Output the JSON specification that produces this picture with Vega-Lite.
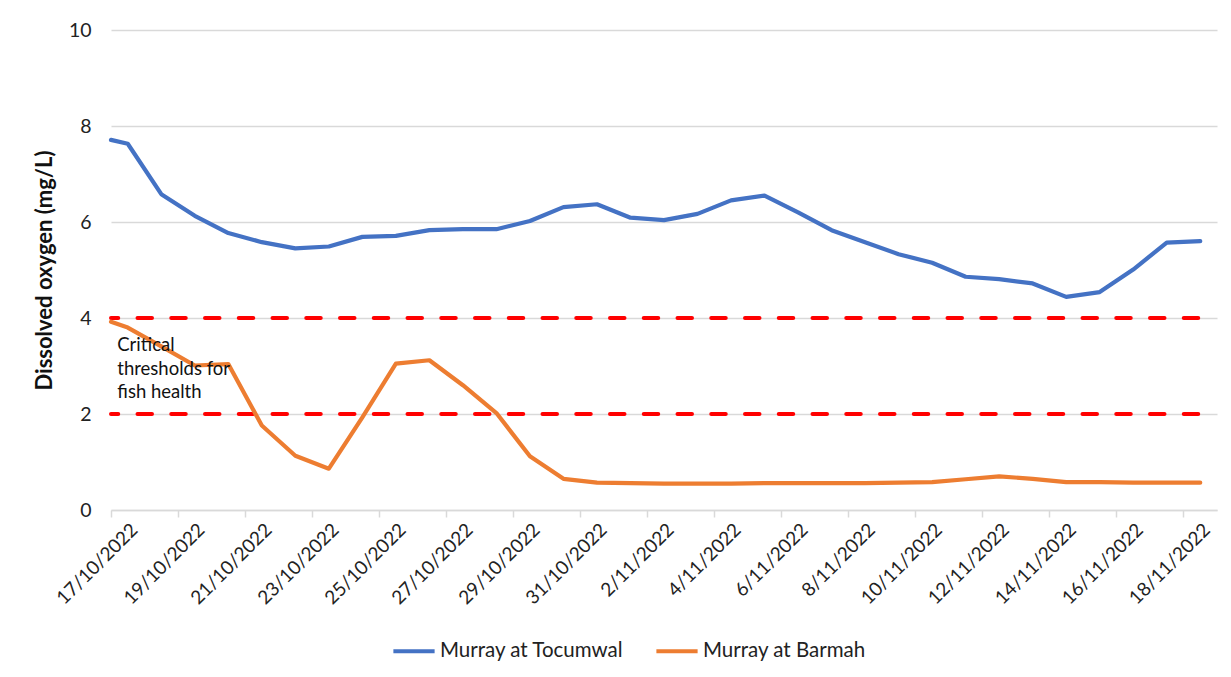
{
  "$schema": "https://vega.github.io/schema/vega-lite/v6.json",
  "width": 1106,
  "height": 480,
  "autosize": {"type": "none"},
  "padding": {"left": 111, "top": 30, "right": 14, "bottom": 167},
  "background": "white",
  "config": {
    "font": "Lato",
    "view": {"stroke": null},
    "axis": {"labelColor": "#222222", "titleColor": "#111111", "labelFontWeight": "normal"}
  },
  "datasets": {
    "oxygen": [
      {"site": "Murray at Tocumwal", "date": "2022-10-16T12:00:00Z", "value": 7.71},
      {"site": "Murray at Tocumwal", "date": "2022-10-17T00:00:00Z", "value": 7.63},
      {"site": "Murray at Tocumwal", "date": "2022-10-18T00:00:00Z", "value": 6.58},
      {"site": "Murray at Tocumwal", "date": "2022-10-19T00:00:00Z", "value": 6.13},
      {"site": "Murray at Tocumwal", "date": "2022-10-20T00:00:00Z", "value": 5.77},
      {"site": "Murray at Tocumwal", "date": "2022-10-21T00:00:00Z", "value": 5.58},
      {"site": "Murray at Tocumwal", "date": "2022-10-22T00:00:00Z", "value": 5.45},
      {"site": "Murray at Tocumwal", "date": "2022-10-23T00:00:00Z", "value": 5.49},
      {"site": "Murray at Tocumwal", "date": "2022-10-24T00:00:00Z", "value": 5.69},
      {"site": "Murray at Tocumwal", "date": "2022-10-25T00:00:00Z", "value": 5.71},
      {"site": "Murray at Tocumwal", "date": "2022-10-26T00:00:00Z", "value": 5.83},
      {"site": "Murray at Tocumwal", "date": "2022-10-27T00:00:00Z", "value": 5.85},
      {"site": "Murray at Tocumwal", "date": "2022-10-28T00:00:00Z", "value": 5.85},
      {"site": "Murray at Tocumwal", "date": "2022-10-29T00:00:00Z", "value": 6.02},
      {"site": "Murray at Tocumwal", "date": "2022-10-30T00:00:00Z", "value": 6.31},
      {"site": "Murray at Tocumwal", "date": "2022-10-31T00:00:00Z", "value": 6.37},
      {"site": "Murray at Tocumwal", "date": "2022-11-01T00:00:00Z", "value": 6.09},
      {"site": "Murray at Tocumwal", "date": "2022-11-02T00:00:00Z", "value": 6.04},
      {"site": "Murray at Tocumwal", "date": "2022-11-03T00:00:00Z", "value": 6.17},
      {"site": "Murray at Tocumwal", "date": "2022-11-04T00:00:00Z", "value": 6.45},
      {"site": "Murray at Tocumwal", "date": "2022-11-05T00:00:00Z", "value": 6.55},
      {"site": "Murray at Tocumwal", "date": "2022-11-06T00:00:00Z", "value": 6.2},
      {"site": "Murray at Tocumwal", "date": "2022-11-07T00:00:00Z", "value": 5.83},
      {"site": "Murray at Tocumwal", "date": "2022-11-08T00:00:00Z", "value": 5.58},
      {"site": "Murray at Tocumwal", "date": "2022-11-09T00:00:00Z", "value": 5.33},
      {"site": "Murray at Tocumwal", "date": "2022-11-10T00:00:00Z", "value": 5.15},
      {"site": "Murray at Tocumwal", "date": "2022-11-11T00:00:00Z", "value": 4.86},
      {"site": "Murray at Tocumwal", "date": "2022-11-12T00:00:00Z", "value": 4.81},
      {"site": "Murray at Tocumwal", "date": "2022-11-13T00:00:00Z", "value": 4.72},
      {"site": "Murray at Tocumwal", "date": "2022-11-14T00:00:00Z", "value": 4.44},
      {"site": "Murray at Tocumwal", "date": "2022-11-15T00:00:00Z", "value": 4.54},
      {"site": "Murray at Tocumwal", "date": "2022-11-16T00:00:00Z", "value": 5.01},
      {"site": "Murray at Tocumwal", "date": "2022-11-17T00:00:00Z", "value": 5.57},
      {"site": "Murray at Tocumwal", "date": "2022-11-18T00:00:00Z", "value": 5.6},
      {"site": "Murray at Barmah", "date": "2022-10-16T12:00:00Z", "value": 3.92},
      {"site": "Murray at Barmah", "date": "2022-10-17T00:00:00Z", "value": 3.8},
      {"site": "Murray at Barmah", "date": "2022-10-18T00:00:00Z", "value": 3.41},
      {"site": "Murray at Barmah", "date": "2022-10-19T00:00:00Z", "value": 3.01},
      {"site": "Murray at Barmah", "date": "2022-10-20T00:00:00Z", "value": 3.04},
      {"site": "Murray at Barmah", "date": "2022-10-21T00:00:00Z", "value": 1.76},
      {"site": "Murray at Barmah", "date": "2022-10-22T00:00:00Z", "value": 1.13},
      {"site": "Murray at Barmah", "date": "2022-10-23T00:00:00Z", "value": 0.86},
      {"site": "Murray at Barmah", "date": "2022-10-24T00:00:00Z", "value": 1.93},
      {"site": "Murray at Barmah", "date": "2022-10-25T00:00:00Z", "value": 3.05},
      {"site": "Murray at Barmah", "date": "2022-10-26T00:00:00Z", "value": 3.12},
      {"site": "Murray at Barmah", "date": "2022-10-27T00:00:00Z", "value": 2.6},
      {"site": "Murray at Barmah", "date": "2022-10-28T00:00:00Z", "value": 2.02},
      {"site": "Murray at Barmah", "date": "2022-10-29T00:00:00Z", "value": 1.12},
      {"site": "Murray at Barmah", "date": "2022-10-30T00:00:00Z", "value": 0.65},
      {"site": "Murray at Barmah", "date": "2022-10-31T00:00:00Z", "value": 0.57},
      {"site": "Murray at Barmah", "date": "2022-11-01T00:00:00Z", "value": 0.56},
      {"site": "Murray at Barmah", "date": "2022-11-02T00:00:00Z", "value": 0.55},
      {"site": "Murray at Barmah", "date": "2022-11-03T00:00:00Z", "value": 0.55},
      {"site": "Murray at Barmah", "date": "2022-11-04T00:00:00Z", "value": 0.55},
      {"site": "Murray at Barmah", "date": "2022-11-05T00:00:00Z", "value": 0.56},
      {"site": "Murray at Barmah", "date": "2022-11-06T00:00:00Z", "value": 0.56},
      {"site": "Murray at Barmah", "date": "2022-11-07T00:00:00Z", "value": 0.56},
      {"site": "Murray at Barmah", "date": "2022-11-08T00:00:00Z", "value": 0.56},
      {"site": "Murray at Barmah", "date": "2022-11-09T00:00:00Z", "value": 0.57},
      {"site": "Murray at Barmah", "date": "2022-11-10T00:00:00Z", "value": 0.58},
      {"site": "Murray at Barmah", "date": "2022-11-11T00:00:00Z", "value": 0.64},
      {"site": "Murray at Barmah", "date": "2022-11-12T00:00:00Z", "value": 0.7},
      {"site": "Murray at Barmah", "date": "2022-11-13T00:00:00Z", "value": 0.65},
      {"site": "Murray at Barmah", "date": "2022-11-14T00:00:00Z", "value": 0.58},
      {"site": "Murray at Barmah", "date": "2022-11-15T00:00:00Z", "value": 0.58},
      {"site": "Murray at Barmah", "date": "2022-11-16T00:00:00Z", "value": 0.57},
      {"site": "Murray at Barmah", "date": "2022-11-17T00:00:00Z", "value": 0.57},
      {"site": "Murray at Barmah", "date": "2022-11-18T00:00:00Z", "value": 0.57}
    ],
    "thresholds": [
      {"level": "upper", "date": "2022-10-16T12:00:00Z", "value": 4},
      {"level": "upper", "date": "2022-11-18T00:00:00Z", "value": 4},
      {"level": "lower", "date": "2022-10-16T12:00:00Z", "value": 2},
      {"level": "lower", "date": "2022-11-18T00:00:00Z", "value": 2}
    ],
    "note": [
      {"date": "2022-10-16T16:30:00Z", "value": 3.43, "label": "Critical\nthresholds for\nfish health"}
    ]
  },
  "encoding": {
    "x": {
      "field": "date",
      "type": "temporal",
      "scale": {
        "type": "utc",
        "domain": [
          {"year": 2022, "month": 10, "date": 16, "hours": 12, "utc": true},
          {"year": 2022, "month": 11, "date": 18, "hours": 12, "utc": true}
        ]
      },
      "axis": {
        "title": null,
        "values": [
          {"year": 2022, "month": 10, "date": 17, "utc": true},
          {"year": 2022, "month": 10, "date": 19, "utc": true},
          {"year": 2022, "month": 10, "date": 21, "utc": true},
          {"year": 2022, "month": 10, "date": 23, "utc": true},
          {"year": 2022, "month": 10, "date": 25, "utc": true},
          {"year": 2022, "month": 10, "date": 27, "utc": true},
          {"year": 2022, "month": 10, "date": 29, "utc": true},
          {"year": 2022, "month": 10, "date": 31, "utc": true},
          {"year": 2022, "month": 11, "date": 2, "utc": true},
          {"year": 2022, "month": 11, "date": 4, "utc": true},
          {"year": 2022, "month": 11, "date": 6, "utc": true},
          {"year": 2022, "month": 11, "date": 8, "utc": true},
          {"year": 2022, "month": 11, "date": 10, "utc": true},
          {"year": 2022, "month": 11, "date": 12, "utc": true},
          {"year": 2022, "month": 11, "date": 14, "utc": true},
          {"year": 2022, "month": 11, "date": 16, "utc": true},
          {"year": 2022, "month": 11, "date": 18, "utc": true}
        ],
        "labelExpr": "utcFormat(datum.value, '%-d/%m/%Y')",
        "labelAngle": -45,
        "labelFontSize": 19,
        "labelPadding": 3,
        "labelOverlap": false,
        "labelFlush": false,
        "tickSize": 7,
        "tickColor": "#d9d9d9",
        "tickWidth": 1.5,
        "tickOffset": -16.76,
        "labelOffset": 16.76,
        "domainColor": "#d9d9d9",
        "domainWidth": 1.5,
        "grid": false
      }
    },
    "y": {
      "field": "value",
      "type": "quantitative",
      "scale": {"domain": [0, 10], "nice": false, "zero": true},
      "axis": {
        "title": "Dissolved oxygen (mg/L)",
        "titleFontSize": 22,
        "titleFontWeight": "bold",
        "titlePadding": 12,
        "values": [0, 2, 4, 6, 8, 10],
        "labelFontSize": 19.5,
        "labelPadding": 20,
        "ticks": false,
        "domain": false,
        "grid": true,
        "gridColor": "#d9d9d9",
        "gridWidth": 1.5
      }
    }
  },
  "layer": [
    {
      "data": {"name": "thresholds"},
      "mark": {
        "type": "line",
        "color": "#FF0000",
        "strokeWidth": 4,
        "strokeDash": [14.5, 19.25],
        "strokeDashOffset": 7.25,
        "strokeCap": "round"
      },
      "encoding": {"detail": {"field": "level", "type": "nominal"}}
    },
    {
      "data": {"name": "oxygen"},
      "mark": {"type": "line", "strokeWidth": 4.2, "strokeJoin": "round", "strokeCap": "round"},
      "encoding": {
        "color": {
          "field": "site",
          "type": "nominal",
          "scale": {
            "domain": ["Murray at Tocumwal", "Murray at Barmah"],
            "range": ["#4472C4", "#ED7D31"]
          },
          "legend": {
            "title": null,
            "orient": "none",
            "legendX": 280,
            "legendY": 598,
            "direction": "horizontal",
            "symbolType": "stroke",
            "symbolStrokeWidth": 4,
            "symbolSize": 1700,
            "labelFontSize": 20.5,
            "labelColor": "#222222",
            "labelLimit": 400,
            "labelOffset": 3,
            "columnPadding": 24
          }
        }
      }
    },
    {
      "data": {"name": "note"},
      "mark": {
        "type": "text",
        "align": "left",
        "baseline": "middle",
        "lineBreak": "\n",
        "lineHeight": 23.5,
        "fontSize": 18.5,
        "color": "#111111"
      },
      "encoding": {"text": {"field": "label", "type": "nominal"}}
    }
  ]
}
